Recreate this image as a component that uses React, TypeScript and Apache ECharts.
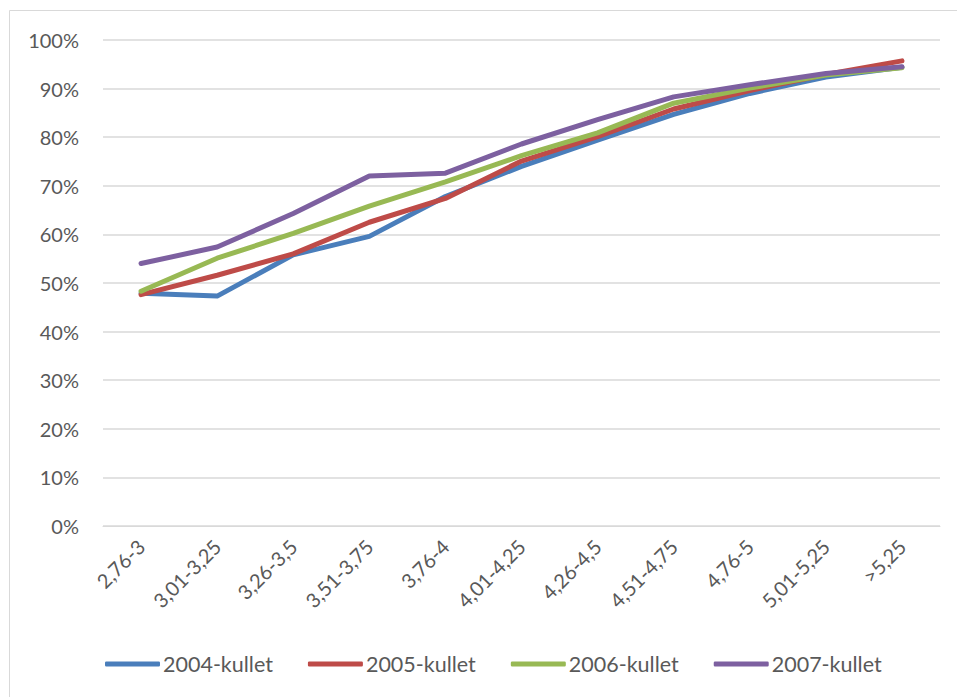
import React, { useEffect, useRef } from "react";
import * as echarts from "echarts";

const categories = ["2,76-3", "3,01-3,25", "3,26-3,5", "3,51-3,75", "3,76-4", "4,01-4,25", "4,26-4,5", "4,51-4,75", "4,76-5", "5,01-5,25", ">5,25"];
const s2004 = [47.9, 47.3, 55.8, 59.6, 67.8, 74.0, 79.4, 84.7, 89.0, 92.4, 94.4];
const s2005 = [47.6, 51.6, 56.0, 62.5, 67.4, 75.1, 80.1, 85.8, 89.6, 92.9, 95.7];
const s2006 = [48.3, 55.1, 60.2, 65.8, 70.8, 76.2, 80.9, 87.0, 90.1, 92.8, 94.3];
const s2007 = [54.0, 57.4, 64.3, 72.0, 72.6, 78.6, 83.6, 88.3, 90.8, 93.1, 94.5];
const seriesNames = ["2004-kullet", "2005-kullet", "2006-kullet", "2007-kullet"];
const colors = ["#4A7EBB", "#BE4B48", "#98B954", "#7D60A0"];

export default function App() {
  const ref = useRef<HTMLDivElement>(null);
  useEffect(() => {
    if (!ref.current) return;
    const chart = echarts.init(ref.current, null, { renderer: "svg" });
    const data = [s2004, s2005, s2006, s2007];
    const font = "Lato, 'Open Sans', sans-serif";
    chart.setOption({
      animation: false,
      textStyle: { fontFamily: font },
      graphic: [
        {
          type: "rect",
          shape: { x: 9.5, y: 10.5, width: 960, height: 700 },
          style: { fill: "none", stroke: "#D9D9D9", lineWidth: 1 },
          silent: true,
        },
      ],
      grid: { left: 103, right: 17, top: 40, bottom: 171 },
      legend: {
        bottom: 17,
        left: 100,
        itemWidth: 55,
        itemHeight: 5,
        itemGap: 35,
        icon: "roundRect",
        data: seriesNames,
        textStyle: { fontSize: 21.5, color: "#595959", fontFamily: font, padding: [0, 0, 0, -2] },
      },
      xAxis: {
        type: "category",
        data: categories,
        boundaryGap: true,
        axisLine: { show: true, lineStyle: { color: "#D9D9D9", width: 1 } },
        axisTick: { show: false },
        axisLabel: { rotate: 45, fontSize: 20, color: "#595959", margin: 17, interval: 0, fontFamily: font },
      },
      yAxis: {
        type: "value",
        min: 0,
        max: 100,
        interval: 10,
        axisLine: { show: false },
        axisTick: { show: false },
        splitLine: { lineStyle: { color: "#D9D9D9", width: 1.5 } },
        axisLabel: { formatter: "{value}%", fontSize: 20, color: "#595959", margin: 24, fontFamily: font },
      },
      series: data.map((d, i) => ({
        name: seriesNames[i],
        type: "line",
        data: d,
        symbol: "none",
        lineStyle: { width: 5, color: colors[i], cap: "round", join: "round" },
        itemStyle: { color: colors[i] },
      })),
    });
    return () => chart.dispose();
  }, []);
  return <div ref={ref} style={{ width: 957, height: 697, position: "absolute", left: 0, top: 0 }} />;
}
